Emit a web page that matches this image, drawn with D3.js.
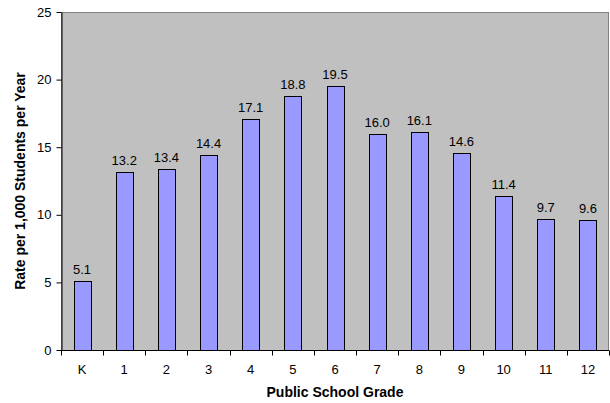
<!DOCTYPE html>
<html>
<head>
<meta charset="utf-8">
<script src="https://cdn.jsdelivr.net/npm/d3@7"></script>
<style>
  body { margin: 0; background: #fff; }
  text { font-family: Arial, "Liberation Sans", sans-serif; }
</style>
</head>
<body>
<div id="chart"></div>
<script>
// data
const grades = ["K", "1", "2", "3", "4", "5", "6", "7", "8", "9", "10", "11", "12"];
const rates = [5.1, 13.2, 13.4, 14.4, 17.1, 18.8, 19.5, 16.0, 16.1, 14.6, 11.4, 9.7, 9.6];
const yTicks = [0, 5, 10, 15, 20, 25];

const W = 610, H = 403;
const margin = {top: 12, right: 1, bottom: 53, left: 61};
const width = W - margin.left - margin.right;
const height = H - margin.top - margin.bottom;

const svg = d3.select("#chart").append("svg")
    .attr("width", W)
    .attr("height", H);

const g = svg.append("g")
    .attr("transform", `translate(${margin.left},${margin.top})`);

const x = d3.scaleBand().domain(grades).range([0, width]).paddingInner(0).paddingOuter(0);
const y = d3.scaleLinear().domain([0, 25]).range([height, 0]);

// plot background
g.append("rect")
    .attr("x", 0.5).attr("y", 0.5)
    .attr("width", width - 1).attr("height", height)
    .attr("fill", "#c0c0c0")
    .attr("stroke", "#808080")
    .attr("stroke-width", 1);

// bars (Excel gap width 150%)
const barW = x.bandwidth() / 2.5;
g.selectAll(".bar")
    .data(grades)
    .enter().append("rect")
    .attr("class", "bar")
    .attr("x", d => Math.round(x(d) + (x.bandwidth() - barW) / 2) + 0.5)
    .attr("y", (d, i) => Math.round(y(rates[i])) + 0.5)
    .attr("width", Math.round(barW))
    .attr("height", (d, i) => height - Math.round(y(rates[i])))
    .attr("fill", "#9999ff")
    .attr("stroke", "#000")
    .attr("stroke-width", 1);

// value labels
g.selectAll(".val")
    .data(grades)
    .enter().append("text")
    .attr("class", "val")
    .attr("x", d => x(d) + x.bandwidth() / 2)
    .attr("y", (d, i) => y(rates[i]) - 7)
    .attr("text-anchor", "middle")
    .style("font-size", "13px")
    .style("fill", "#000")
    .text((d, i) => rates[i].toFixed(1));

// y axis
const yAxis = g.append("g")
    .attr("transform", "translate(0.5,0)")
    .call(d3.axisLeft(y).tickValues(yTicks).tickSize(5).tickSizeOuter(0).tickPadding(5));
yAxis.selectAll("text").style("font-size", "13px").style("fill", "#000")
    .style("font-family", "Arial, 'Liberation Sans', sans-serif");
yAxis.select(".domain").attr("stroke", "#000");

// x axis, ticks between categories
const xAxis = g.append("g")
    .attr("transform", `translate(0,${height + 0.5})`);
xAxis.append("line")
    .attr("x1", 0).attr("x2", width)
    .attr("stroke", "#000");
xAxis.selectAll(".xt")
    .data(grades.concat(["end"]))
    .enter().append("line")
    .attr("class", "xt")
    .attr("x1", (d, i) => Math.round(i * x.bandwidth()) + 0.5)
    .attr("x2", (d, i) => Math.round(i * x.bandwidth()) + 0.5)
    .attr("y1", 0).attr("y2", 5)
    .attr("stroke", "#000");
xAxis.selectAll(".xl")
    .data(grades)
    .enter().append("text")
    .attr("class", "xl")
    .attr("x", d => x(d) + x.bandwidth() / 2)
    .attr("y", 23.5)
    .attr("text-anchor", "middle")
    .style("font-size", "13px")
    .text(d => d);

// axis titles
svg.append("text")
    .attr("x", margin.left + width / 2)
    .attr("y", 397)
    .attr("text-anchor", "middle")
    .style("font-size", "14px")
    .style("font-weight", "bold")
    .text("Public School Grade");

svg.append("text")
    .attr("transform", `translate(25,${margin.top + height / 2}) rotate(-90)`)
    .attr("text-anchor", "middle")
    .style("font-size", "14px")
    .style("font-weight", "bold")
    .text("Rate per 1,000 Students per Year");
</script>
</body>
</html>
